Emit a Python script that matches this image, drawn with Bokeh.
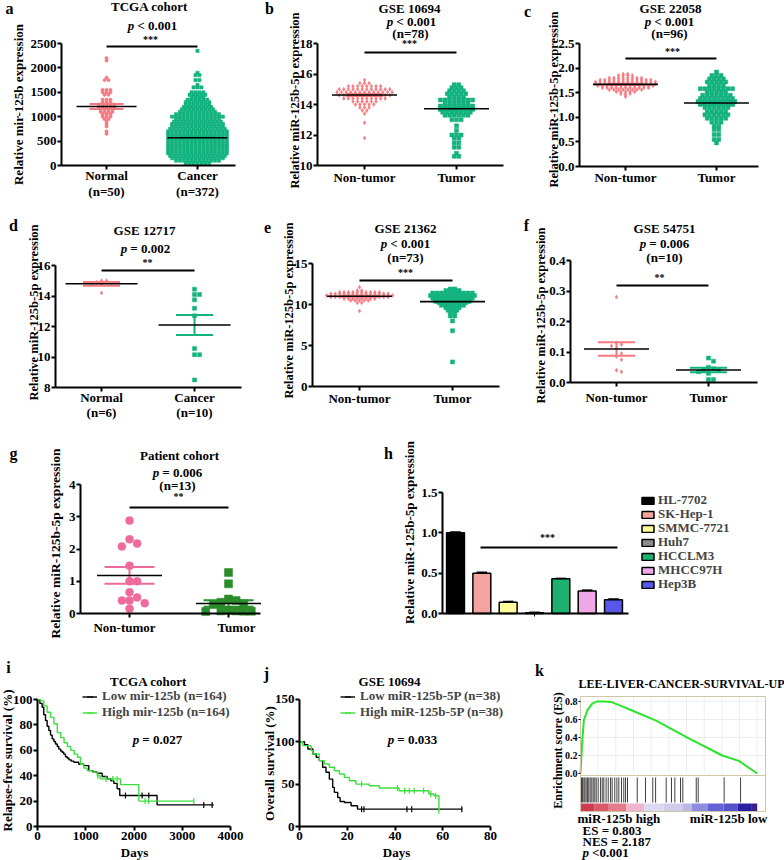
import math
from bokeh.plotting import figure
from bokeh.models import (Label, Range1d, FixedTicker, Legend, LegendItem, NumeralTickFormatter)
from bokeh.layouts import row, column
from bokeh.embed import file_html
from bokeh.resources import INLINE

# ======================= DATA =======================
# a  TCGA cohort : dot rows -> (level, number of dots)
a_cats = ["Normal", "Cancer"]
a_ns = ["(n=50)", "(n=372)"]
a_normal_lv = [2200, 2150, 1800, 1750, 1550, 1500, 1450, 1350, 1300, 1250, 1200, 1150, 1100, 1050, 1000, 950, 900, 850, 800, 700, 650]
a_normal_ct = [1, 1, 1, 2, 3, 3, 2, 3, 3, 5, 5, 4, 4, 3, 3, 2, 1, 1, 1, 1, 1]
a_cancer_lv = [2350, 1900, 1850, 1750, 1650, 1600, 1500, 1450, 1400, 1350, 1300, 1250, 1200, 1150, 1100, 1050, 1000, 950, 900, 850,
               800, 750, 700, 650, 600, 550, 500, 450, 400, 350, 300, 250, 200, 150, 100, 50]
a_cancer_ct = [1, 1, 2, 2, 1, 3, 4, 5, 4, 6, 7, 7, 8, 9, 10, 12, 14, 12, 13, 14,
               14, 15, 16, 16, 16, 16, 16, 16, 16, 16, 16, 16, 15, 14, 12, 7]
a_mean = [1210, 570]
a_sem = [50, 20]
a_sig = 2440

# b  GSE 10694
b_cats = ["Non-tumor", "Tumor"]
b_nt_lv = [15.6, 15.4, 15.2, 15.0, 14.8, 14.6, 14.4, 14.2, 14.0, 13.8, 13.6, 13.4, 12.8, 11.8]
b_nt_ct = [1, 3, 8, 12, 13, 12, 10, 6, 5, 3, 2, 1, 1, 1]
b_t_lv = [15.3, 15.1, 14.9, 14.7, 14.5, 14.3, 14.1, 13.9, 13.7, 13.5, 13.3, 13.0, 12.6, 12.3, 12.0, 11.8, 11.5, 11.2, 10.8, 10.6]
b_t_ct = [2, 3, 4, 5, 4, 8, 6, 8, 8, 7, 6, 3, 1, 1, 3, 2, 2, 2, 1, 2]
b_mean = [14.62, 13.72]
b_sem = [0.07, 0.12]
b_sig = 17.41

# c  GSE 22058
c_nt_lv = [1.88, 1.85, 1.80, 1.76, 1.72, 1.68, 1.64, 1.60, 1.56, 1.52, 1.48, 1.44, 1.42]
c_nt_ct = [2, 4, 8, 12, 14, 14, 13, 11, 8, 5, 3, 1, 1]
c_t_lv = [1.92, 1.85, 1.78, 1.72, 1.65, 1.58, 1.52, 1.45, 1.38, 1.32, 1.26, 1.20, 1.12, 1.05, 0.98, 0.90, 0.82, 0.75, 0.65, 0.55, 0.48]
c_t_ct = [1, 3, 4, 5, 4, 8, 5, 7, 8, 9, 8, 6, 5, 6, 5, 3, 2, 2, 2, 2, 1]
c_mean = [1.67, 1.29]
c_sem = [0.01, 0.03]
c_sig = 2.195

# d  GSE 12717
d_cats = ["Normal", "Cancer"]
d_ns = ["(n=6)", "(n=10)"]
d_normal = [15.0, 15.0, 14.9, 14.85, 14.8, 14.2]
d_cancer = [14.45, 14.1, 14.1, 13.75, 13.2, 12.7, 10.55, 10.15, 10.15, 8.5]
d_mean = [14.8, 12.1]
d_sem = [0.12, 0.66]
d_sig = 15.67

# e  GSE 21362
e_nt_lv = [12.1, 11.7, 11.5, 11.3, 11.1, 10.9, 10.7, 10.5, 10.2, 9.2]
e_nt_ct = [1, 2, 10, 14, 16, 14, 8, 5, 2, 1]
e_t_lv = [11.9, 11.7, 11.4, 11.1, 10.8, 10.5, 10.2, 9.9, 9.6, 9.3, 9.0, 8.6, 8.0, 6.8, 3.0]
e_t_ct = [2, 4, 10, 11, 10, 9, 7, 6, 4, 3, 2, 2, 1, 1, 1]
e_mean = [11.0, 10.35]
e_sem = [0.06, 0.14]
e_sig = 12.93

# f  GSE 54751
f_nt = [0.28, 0.13, 0.125, 0.12, 0.11, 0.095, 0.085, 0.075, 0.04, 0.035]
f_t = [0.08, 0.07, 0.05, 0.045, 0.04, 0.04, 0.035, 0.03, 0.01, 0.01]
f_mean = [0.11, 0.041]
f_sem = [0.022, 0.007]
f_sig = 0.318

# g  Patient cohort
g_nt = [2.88, 2.3, 2.17, 2.08, 1.48, 1.0, 1.0, 0.66, 0.5, 0.4, 0.4, 0.32, 0.15]
g_t = [1.27, 0.92, 0.45, 0.4, 0.35, 0.3, 0.28, 0.1, 0.08, 0.08, 0.07, 0.07, 0.06]
g_mean = [1.18, 0.31]
g_sem = [0.26, 0.1]
g_sig = 3.29

# h  cell lines
h_lines = ["HL-7702", "SK-Hep-1", "SMMC-7721", "Huh7", "HCCLM3", "MHCC97H", "Hep3B"]
h_vals = [1.0, 0.5, 0.14, 0.01, 0.43, 0.28, 0.17]
h_err = [0.01, 0.01, 0.01, 0.005, 0.005, 0.01, 0.01]
h_colors = ["#000000", "#F5A39E", "#FFFF99", "#8C8C8C", "#1DB071", "#F0A8E8", "#5858E8"]
h_sig = 0.818

# i  TCGA relapse-free survival (days, %)
i_low_t = [0, 50, 97, 130, 166, 200, 235, 270, 304, 340, 373, 410, 442, 480, 511, 545, 580, 615, 650, 700, 753, 856, 960,
           1063, 1150, 1236, 1340, 1443, 1520, 1581, 1650, 1705, 2479, 3653]
i_low_s = [100, 97, 94, 88, 83.5, 79, 75.6, 72, 69, 67, 65, 63, 61, 59.5, 58.5, 57, 55, 54, 52.5, 51.5, 50.6, 49, 48,
           44, 43, 42, 39.4, 37.5, 36, 34, 29.7, 24.4, 17, 17]
i_low_cens = [1823, 2168, 2307, 3446, 3619]
i_high_t = [0, 60, 130, 200, 270, 340, 410, 480, 550, 620, 690, 760, 830, 890, 960, 1030, 1130, 1240, 1300, 1720, 2100, 3240]
i_high_s = [100, 99, 95, 90, 86, 81, 74, 70, 66, 63, 60, 57, 54.6, 49, 46, 44, 43, 40, 37.5, 33, 20, 20]
i_high_cens = [1250, 1420, 1560, 1650, 2230, 2300, 3240]

# j  GSE 10694 overall survival
j_low_t = [0, 2.1, 3.5, 5.6, 7.0, 8.3, 9.7, 11.1, 12.5, 13.9, 14.6, 16.0, 17.0, 18.8, 21.6, 24.3, 68.2]
j_low_s = [100, 96.7, 91.6, 85.7, 81.7, 77.8, 69.9, 64, 56, 46.2, 40.3, 34.3, 29.6, 28.4, 24.5, 20.5, 20.5]
j_low_cens = [26, 27, 45, 47, 68]
j_high_t = [0, 1.4, 4.9, 5.6, 8.3, 10.4, 12.5, 14.6, 16.7, 18.8, 20.9, 23.6, 29.2, 33.4, 41.7, 54.2, 56.3, 58.4]
j_high_s = [100, 95.5, 89.6, 85.7, 77.8, 73.8, 69.9, 65.9, 62, 58, 54, 50.1, 48.2, 45.4, 42.2, 38.3, 36.3, 18.6]
j_high_cens = [26, 41, 44, 46, 48, 52, 55, 57, 58.4]

# k  GSEA
k_rank = [0, 0.9, 1.9, 3.8, 6.6, 9.4, 14.2, 17.9, 23.6, 29.2, 42.5, 61.3, 80.2, 89.6, 100]
k_es = [0, 0.33, 0.59, 0.70, 0.775, 0.80, 0.80, 0.79, 0.745, 0.70, 0.59, 0.39, 0.20, 0.14, 0.0]
k_hits = [0, 0.6, 1.1, 1.9, 2.5, 3.2, 4.0, 4.7, 5.5, 6.4, 7.2, 8.1, 8.9, 10.0, 11.3, 12.3, 13.2, 14.5, 15.7, 17.0,
          17.9, 19.4, 20.6, 21.7, 23.2, 24.5, 25.5, 26.6, 32.1, 36.8, 40.9, 42.5, 48.5, 51.5, 53.4, 56.6, 57.9,
          65.5, 66.6, 81.3, 90.6]
k_ramp_edges = [0, 8, 16, 26, 36, 47, 58, 63, 72, 81, 89, 97, 100]
k_ramp_colors = ["#CC3C52", "#D9596B", "#E37B8B", "#F0B4CC", "#DCDAF0", "#CFCDEB", "#B9B7E4", "#8E8CDC",
                 "#6462D2", "#5552CC", "#2A1DA5", "#3A1E8A"]

# ======================= STYLE / HELPERS =======================
FONT = "Liberation Serif"
PINK = "#F47A80"
GREEN = "#14B37E"
G_PINK = "#EE6A9C"
G_GREEN = "#2A8C2A"
KM_GREEN = "#3CE03C"

CW = {' ': .25, '.': .25, '<': .57, '=': .57, '(': .333, ')': .333, '*': .5, '-': .333}


def tw(s, size):
    w = 0
    for ch in s:
        if ch in CW:
            w += CW[ch]
        elif ch.isdigit():
            w += .5
        elif ch.isupper():
            w += .72
        else:
            w += .5
    return w * size


def mkfig(box, af, xr, yr):
    """box = figure (x, y, w, h) on the page; af = axis frame (left, top, right, bottom) on the page."""
    ox, oy, w, h = box
    fl, ft, fr, fb = af
    pxx = (fr - fl) / (xr[1] - xr[0])
    pxy = (fb - ft) / (yr[1] - yr[0])
    X0 = xr[0] - (fl - ox) / pxx
    X1 = xr[1] + (ox + w - fr) / pxx
    Y0 = yr[0] - (oy + h - fb) / pxy
    Y1 = yr[1] + (ft - oy) / pxy
    p = figure(width=w, height=h, x_range=Range1d(X0, X1), y_range=Range1d(Y0, Y1),
               output_backend="svg", toolbar_location=None, min_border=0,
               background_fill_color="white", border_fill_color="white")
    p.title.visible = False
    p.outline_line_color = None
    p.grid.visible = False
    p.xaxis.fixed_location = yr[0]
    p.xaxis.bounds = (xr[0], xr[1])
    p.yaxis.fixed_location = xr[0]
    p.yaxis.bounds = (yr[0], yr[1])
    for ax in (p.xaxis[0], p.yaxis[0]):
        ax.axis_line_width = 2
        ax.major_tick_line_width = 2
        ax.major_tick_out = 4
        ax.major_tick_in = 0
        ax.minor_tick_out = 0
        ax.minor_tick_in = 0
        ax.major_label_text_font = FONT
        ax.major_label_text_font_style = "bold"
        ax.major_label_text_font_size = "13px"
        ax.major_label_text_color = "black"
        ax.major_label_standoff = 1
    return p


def T(p, box, x, y, text, size=13, style="bold", align="center", angle=0, color="black"):
    ox, oy, w, h = box
    p.add_layout(Label(x=x - ox, y=oy + h - y, x_units="screen", y_units="screen", text=text,
                       text_font=FONT, text_font_size=f"{size}px", text_font_style=style,
                       text_align=align, text_baseline="middle", angle=angle, angle_units="deg",
                       text_color=color))


def PV(p, box, cx, y, rest, size=13, left=None):
    wp = 0.5 * size
    gap = 3
    total = wp + gap + tw(rest, size)
    x0 = cx - total / 2 if left is None else left
    T(p, box, x0, y, "p", size, "bold italic", "left")
    T(p, box, x0 + wp + gap, y, rest, size, "bold", "left")


def row_swarm(levels, counts, center, dx):
    xs, ys = [], []
    for lv, c in zip(levels, counts):
        for j in range(c):
            xs.append(center + (j - (c - 1) / 2) * dx)
            ys.append(lv)
    return xs, ys


def bee(values, center, pxx, pxy, d):
    placed, xs, ys = [], [], []
    cands = [0] + [s * i * d for i in range(1, 25) for s in (1, -1)]
    for v in sorted(values, reverse=True):
        sy = v * pxy
        for off in cands:
            if all((off - a) ** 2 + (sy - b) ** 2 >= (0.95 * d) ** 2 for a, b in placed):
                break
        placed.append((off, sy))
        xs.append(center + off / pxx)
        ys.append(v)
    return xs, ys


def dot_panel(box, af, xr, yr, ticks, fmt, groups, mode, colors, markers, msize, spacing,
              means, sems, sig, mean_px=65, sem_px=37):
    p = mkfig(box, af, xr, yr)
    fl, ft, fr, fb = af
    pxx = (fr - fl) / (xr[1] - xr[0])
    pxy = (fb - ft) / (yr[1] - yr[0])
    for i, g in enumerate(groups):
        c = i + 1
        if mode == "rows":
            xs, ys = row_swarm(g[0], g[1], c, spacing / pxx)
        else:
            xs, ys = bee(g, c, pxx, pxy, spacing)
        p.scatter(xs, ys, marker=markers[i], size=msize, fill_color=colors[i], line_color=colors[i], line_width=0.5)
    for i in range(len(groups)):
        c = i + 1
        hw = mean_px / 2 / pxx
        sw = sem_px / 2 / pxx
        m, s = means[i], sems[i]
        p.segment([c - sw, c - sw, c], [m + s, m - s, m - s], [c + sw, c + sw, c], [m + s, m - s, m + s],
                  line_color=colors[i], line_width=2)
        p.segment([c - hw], [m], [c + hw], [m], line_color="black", line_width=1.6)
    p.segment([1], [sig], [2], [sig], line_color="black", line_width=2)
    p.yaxis.ticker = FixedTicker(ticks=ticks)
    if fmt:
        p.yaxis.formatter = NumeralTickFormatter(format=fmt)
    p.xaxis.ticker = FixedTicker(ticks=[1, 2])
    p.xaxis.major_label_overrides = {1: "", 2: ""}
    return p


# ======================= PANEL a =======================
Ba = (0, 0, 262, 212)
pa = dot_panel(Ba, (61, 43, 235, 165), (0.505, 2.418), (0, 2500), [0, 500, 1000, 1500, 2000, 2500], None,
               [(a_normal_lv, a_normal_ct), (a_cancer_lv, a_cancer_ct)], "rows",
               [PINK, GREEN], ["circle", "square"], 3.3, 3.9, a_mean, a_sem, a_sig, mean_px=60, sem_px=34)
T(pa, Ba, 9, 8, "a", 16)
T(pa, Ba, 149, 6, "TCGA cohort")
PV(pa, Ba, 152, 25, "< 0.001")
T(pa, Ba, 150, 39, "***", 10)
T(pa, Ba, 18, 104, "Relative mir-125b expression", 13, angle=90)
for cx, c1, c2 in zip([106, 197], a_cats, a_ns):
    T(pa, Ba, cx, 175, c1)
    T(pa, Ba, cx, 191, c2)

# ======================= PANEL b =======================
Bb = (262, 0, 260, 212)
pb = dot_panel(Bb, (317, 43, 503, 165), (0.489, 2.511), (10, 18), [10, 12, 14, 16, 18], None,
               [(b_nt_lv, b_nt_ct), (b_t_lv, b_t_ct)], "rows",
               [PINK, GREEN], ["diamond", "square"], 4, 4.6, b_mean, b_sem, b_sig)
T(pb, Bb, 269, 8, "b", 16)
T(pb, Bb, 409, 8, "GSE 10694")
PV(pb, Bb, 411, 21, "< 0.001")
T(pb, Bb, 410, 33, "(n=78)")
T(pb, Bb, 409, 43, "***", 10)
T(pb, Bb, 294, 100, "Relative miR-125b-5p expression", 12.5, angle=90)
for cx, c1 in zip([364, 456], b_cats):
    T(pb, Bb, cx, 177, c1)

# ======================= PANEL c =======================
Bc = (522, 0, 262, 212)
pc = dot_panel(Bc, (579, 43, 758, 166), (0.495, 2.462), (0, 2.5), [0, 0.5, 1.0, 1.5, 2.0, 2.5], "0.0",
               [(c_nt_lv, c_nt_ct), (c_t_lv, c_t_ct)], "rows",
               [PINK, GREEN], ["diamond", "square"], 4, 4.6, c_mean, c_sem, c_sig)
T(pc, Bc, 527, 11, "c", 16)
T(pc, Bc, 670, 8, "GSE 22058")
PV(pc, Bc, 669, 21, "< 0.001")
T(pc, Bc, 669, 33, "(n=96)")
T(pc, Bc, 672, 51, "***", 10)
T(pc, Bc, 553, 99, "Relative miR-125b-5p expression", 12.5, angle=90)
for cx, c1 in zip([625, 716], b_cats):
    T(pc, Bc, cx, 177, c1)

# ======================= PANEL d =======================
Bd = (0, 212, 262, 210)
pd_ = dot_panel(Bd, (55, 265, 241, 387), (0.505, 2.505), (8, 16), [8, 10, 12, 14, 16], None,
                [d_normal, d_cancer], "bee",
                [PINK, GREEN], ["diamond", "square"], 4, 5, d_mean, d_sem, d_sig, mean_px=72, sem_px=37)
T(pd_, Bd, 13, 225, "d", 16)
T(pd_, Bd, 144, 230, "GSE 12717")
PV(pd_, Bd, 145, 248, "= 0.002")
T(pd_, Bd, 147, 262, "**", 10)
T(pd_, Bd, 33, 312, "Relative miR-125b-5p expression", 12.5, angle=90)
for cx, c1, c2 in zip([101, 194], d_cats, d_ns):
    T(pd_, Bd, cx, 397, c1)
    T(pd_, Bd, cx, 412, c2)

# ======================= PANEL e =======================
Be = (262, 212, 260, 210)
pe = dot_panel(Be, (312, 263, 499, 386), (0.495, 2.505), (0, 15), [0, 5, 10, 15], None,
               [(e_nt_lv, e_nt_ct), (e_t_lv, e_t_ct)], "rows",
               [PINK, GREEN], ["diamond", "square"], 4, 4.4, e_mean, e_sem, e_sig)
T(pe, Be, 267, 227, "e", 16)
T(pe, Be, 405, 228, "GSE 21362")
PV(pe, Be, 405, 243, "< 0.001")
T(pe, Be, 405, 257, "(n=73)")
T(pe, Be, 405, 272, "***", 10)
T(pe, Be, 288, 310, "Relative miR-125b-5p expression", 12.5, angle=90)
for cx, c1 in zip([359, 452], b_cats):
    T(pe, Be, cx, 398, c1)

# ======================= PANEL f =======================
Bf = (522, 212, 262, 210)
pf = dot_panel(Bf, (570, 260, 757, 382), (0.5, 2.533), (0, 0.4), [0, 0.1, 0.2, 0.3, 0.4], "0.0",
               [f_nt, f_t], "bee",
               [PINK, GREEN], ["diamond", "square"], 4, 5, f_mean, f_sem, f_sig)
T(pf, Bf, 526, 225, "f", 16)
T(pf, Bf, 664, 228, "GSE 54751")
PV(pf, Bf, 664, 243, "= 0.006")
T(pf, Bf, 664, 257, "(n=10)")
T(pf, Bf, 659, 277, "**", 10)
T(pf, Bf, 540, 315, "Relative miR-125b-5p expression", 12.5, angle=90)
for cx, c1 in zip([616, 708], b_cats):
    T(pf, Bf, cx, 397, c1)

# ======================= PANEL g =======================
Bg = (0, 422, 262, 218)
pg = dot_panel(Bg, (80, 484, 260, 613), (0.505, 2.323), (0, 4), [0, 1, 2, 3, 4], None,
               [g_nt, g_t], "bee",
               [G_PINK, G_GREEN], ["circle", "square"], 8, 7.6, g_mean, g_sem, g_sig, mean_px=65, sem_px=50)
T(pg, Bg, 13, 453, "g", 16)
T(pg, Bg, 179, 455, "Patient cohort")
PV(pg, Bg, 177, 472, "= 0.006")
T(pg, Bg, 177, 485, "(n=13)")
T(pg, Bg, 178, 496, "**", 10)
T(pg, Bg, 55, 543, "Relative miR-125b-5p expression", 13.5, angle=90)
for cx, c1 in zip([124, 236], b_cats):
    T(pg, Bg, cx, 627, c1)

# ======================= PANEL h =======================
Bh = (262, 422, 522, 218)
ph = mkfig(Bh, (442, 492, 628, 613), (-0.494, 6.57), (0, 1.5))
hx = list(range(len(h_vals)))
hr = ph.vbar(x=hx, top=h_vals, width=0.68, fill_color=h_colors, line_color="black", line_width=1.5)
htop = [v + e for v, e in zip(h_vals, h_err)]
ph.segment(hx, h_vals, hx, htop, line_color="black", line_width=1.5)
ph.segment([x - 0.2 for x in hx], htop, [x + 0.2 for x in hx], htop, line_color="black", line_width=1.5)
ph.segment([0.95], [h_sig], [6.15], [h_sig], line_color="black", line_width=2)
ph.yaxis.ticker = FixedTicker(ticks=[0, 0.5, 1.0, 1.5])
ph.yaxis.formatter = NumeralTickFormatter(format="0.0")
ph.xaxis.ticker = FixedTicker(ticks=[3])
ph.xaxis.major_label_overrides = {3: ""}
ph.xaxis.major_tick_line_width = 1
ph.xaxis.major_tick_out = 3
# one small legend per cell line, stacked 14 px apart
for i, n in enumerate(h_lines):
    leg = Legend(items=[LegendItem(label=n, renderers=[hr], index=i)],
                 location=(378, 640 - (500 + 14 * i) - 8), orientation="vertical", border_line_color=None,
                 background_fill_alpha=0, padding=0, margin=0, spacing=0, glyph_width=15, glyph_height=9,
                 label_height=14, label_standoff=3, label_text_font=FONT, label_text_font_style="bold",
                 label_text_font_size="13px")
    ph.add_layout(leg)
T(ph, Bh, 388, 453, "h", 16)
T(ph, Bh, 409, 532, "Relative miR-125b-5p expression", 13, angle=90)
T(ph, Bh, 547, 537, "***", 10)


# ======================= KM helper =======================
def surv_at(ts, ss, t):
    v = ss[0]
    for a, b in zip(ts, ss):
        if a <= t:
            v = b
    return v


def km_panel(box, af, xr, yr, xticks, yticks, curves, labels, leg_loc):
    p = mkfig(box, af, xr, yr)
    p.yaxis.bounds = (yticks[0], yticks[-1])
    rs = []
    for (ts, ss, cens), col in zip(curves, ["black", KM_GREEN]):
        r = p.step(ts, ss, mode="after", line_color=col, line_width=1.4)
        rc = p.scatter(cens, [surv_at(ts, ss, t) for t in cens], marker="dash", angle=math.pi / 2,
                       size=6, line_color=col, line_width=1.2)
        rs.append([r, rc])
    p.xaxis.ticker = FixedTicker(ticks=xticks)
    p.yaxis.ticker = FixedTicker(ticks=yticks)
    leg = Legend(items=[LegendItem(label=l, renderers=r) for l, r in zip(labels, rs)],
                 location=leg_loc, border_line_color=None, background_fill_alpha=0, padding=0, margin=0,
                 spacing=0, glyph_width=15, glyph_height=15, label_height=15, label_standoff=5,
                 label_text_font=FONT, label_text_font_style="bold", label_text_font_size="13px")
    p.add_layout(leg)
    return p


# ======================= PANEL i =======================
Bi = (0, 640, 262, 220)
pi = km_panel(Bi, (37, 694, 230, 826), (0, 4000), (0, 104), [0, 1000, 2000, 3000, 4000],
              [0, 20, 40, 60, 80, 100],
              [(i_low_t, i_low_s, i_low_cens), (i_high_t, i_high_s, i_high_cens)],
              ["Low mir-125b (n=164)", "High mir-125b (n=164)"], (82, 140))
T(pi, Bi, 8, 667, "i", 16)
T(pi, Bi, 148, 681, "TCGA cohort")
PV(pi, Bi, 157, 739, "= 0.027")
T(pi, Bi, 7, 760, "Relapse-free survival (%)", 13, angle=90)
T(pi, Bi, 134, 852, "Days")

# ======================= PANEL j =======================
Bj = (262, 640, 260, 220)
pj = km_panel(Bj, (299, 695, 490, 826), (0, 80), (0, 154.7), [0, 20, 40, 60, 80], [0, 50, 100, 150],
              [(j_low_t, j_low_s, j_low_cens), (j_high_t, j_high_s, j_high_cens)],
              ["Low miR-125b-5P (n=38)", "High miR-125b-5P (n=38)"], (78, 140))
T(pj, Bj, 266, 673, "j", 16)
T(pj, Bj, 389, 681, "GSE 10694")
PV(pj, Bj, 412, 739, "= 0.033")
T(pj, Bj, 269, 763, "Overall survival (%)", 13, angle=90)
T(pj, Bj, 396, 852, "Days")

# ======================= PANEL k =======================
Bk = (522, 640, 262, 220)
pk = mkfig(Bk, (580, 696, 765, 811), (0, 104.7), (-0.422, 0.855))
pk.xaxis.visible = False
gx = [10, 20, 30, 40, 50, 60, 70, 80, 90, 100]
gy = [0.2, 0.4, 0.6, 0.8]
pk.segment(gx, [0] * len(gx), gx, [0.855] * len(gx), line_color="#EEEEEE", line_width=1)
pk.segment([0] * len(gy), gy, [104.7] * len(gy), gy, line_color="#EEEEEE", line_width=1)
pk.line(k_rank, k_es, line_color="#2BE52B", line_width=2)
pk.segment(k_hits, [-0.044] * len(k_hits), k_hits, [-0.322] * len(k_hits), line_color="black",
           line_alpha=0.75, line_width=1)
pk.quad(left=k_ramp_edges[:-1], right=k_ramp_edges[1:], bottom=[-0.422] * len(k_ramp_colors),
        top=[-0.333] * len(k_ramp_colors), fill_color=k_ramp_colors, line_color=None)
pk.segment([0], [-0.022], [104.7], [-0.022], line_color="#CFC6A8", line_width=1)
pk.quad(left=[0], right=[104.7], bottom=[-0.422], top=[0.855], fill_color=None, line_color="#CFC6A8", line_width=1)
pk.yaxis.ticker = FixedTicker(ticks=[0, 0.2, 0.4, 0.6, 0.8])
pk.yaxis.formatter = NumeralTickFormatter(format="0.0")
pk.yaxis.axis_line_color = None
pk.yaxis.major_tick_out = 2
pk.yaxis.major_tick_line_width = 1
pk.yaxis.major_label_text_font_size = "10px"
T(pk, Bk, 539, 670, "k", 16)
T(pk, Bk, 681, 683, "LEE-LIVER-CANCER-SURVIVAL-UP", 12)
T(pk, Bk, 557, 750, "Enrichment score (ES)", 12, angle=90)
T(pk, Bk, 577, 818, "miR-125b high", 13, align="left")
T(pk, Bk, 767, 818, "miR-125b low", 13, align="right")
T(pk, Bk, 582, 830, "ES = 0.803", 13, align="left")
T(pk, Bk, 582, 841, "NES = 2.187", 13, align="left")
PV(pk, Bk, 0, 852, "<0.001", 13, left=582)

layout = column(row(pa, pb, pc), row(pd_, pe, pf), row(pg, ph), row(pi, pj, pk))

open("out.html", "w").write(file_html(layout, INLINE))
